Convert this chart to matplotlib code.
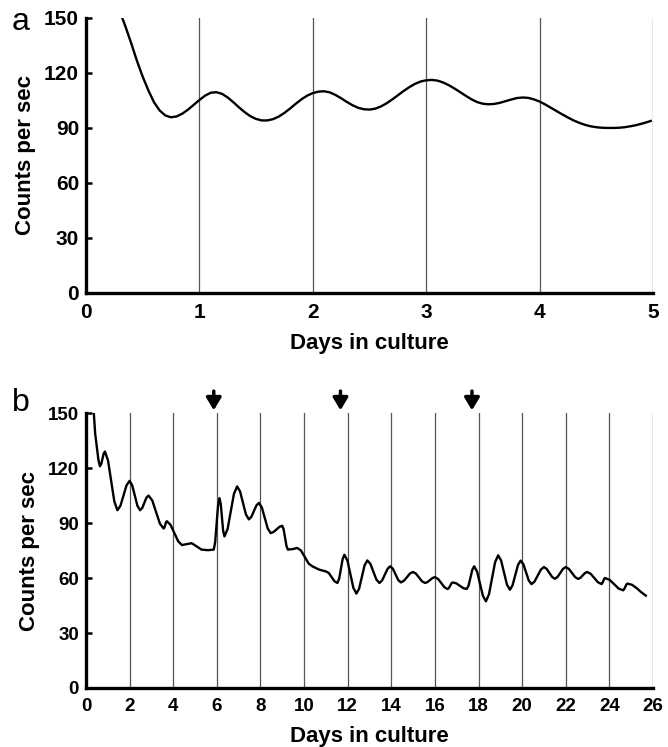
import matplotlib
matplotlib.use("Agg")
import matplotlib.pyplot as plt

plt.rcParams['font.family'] = ['Liberation Sans', 'DejaVu Sans']

# panel a: first 5 days
days_a = [0.32, 0.35, 0.4, 0.45, 0.5, 0.55, 0.6, 0.65, 0.7, 0.75, 0.8, 0.85, 0.9, 0.95,
          1.0, 1.05, 1.1, 1.15, 1.2, 1.25, 1.3, 1.35, 1.4, 1.45, 1.5, 1.55, 1.6, 1.65,
          1.7, 1.75, 1.8, 1.85, 1.9, 1.95, 2.0, 2.05, 2.1, 2.15, 2.2, 2.25, 2.3, 2.35,
          2.4, 2.45, 2.5, 2.55, 2.6, 2.65, 2.7, 2.75, 2.8, 2.85, 2.9, 2.95, 3.0, 3.05,
          3.1, 3.15, 3.2, 3.25, 3.3, 3.35, 3.4, 3.45, 3.5, 3.55, 3.6, 3.65, 3.7, 3.75,
          3.8, 3.85, 3.9, 3.95, 4.0, 4.05, 4.1, 4.15, 4.2, 4.25, 4.3, 4.35, 4.4, 4.45,
          4.5, 4.55, 4.6, 4.65, 4.7, 4.75, 4.8, 4.85, 4.9, 4.95, 4.98]
cps_a = [150, 145, 136, 126.5, 118, 110.5, 104, 99.5, 96.8, 95.8, 96.3, 97.8, 100, 102.6,
         105.2, 107.6, 109.2, 109.5, 108.6, 106.6, 104, 101.2, 98.6, 96.4, 94.9, 94.1, 94.1, 94.8,
         96.2, 98.2, 100.6, 103.2, 105.6, 107.6, 109, 109.8, 110, 109.4, 108, 106.2, 104.2, 102.4,
         101, 100.2, 100, 100.5, 101.7, 103.4, 105.5, 107.8, 110.1, 112.2, 114, 115.3, 116, 116.2,
         115.8, 114.8, 113.3, 111.5, 109.5, 107.5, 105.6, 104.1, 103.2, 102.9, 103.1, 103.7, 104.6, 105.5,
         106.3, 106.6, 106.4, 105.6, 104.4, 102.8, 101, 99.2, 97.4, 95.7, 94.1, 92.8, 91.7, 90.9,
         90.4, 90.1, 90, 90, 90.1, 90.4, 90.9, 91.5, 92.3, 93.2, 93.8]

# panel b: 26 days
days_b = [0.36, 0.42, 0.5, 0.57, 0.64, 0.7, 0.755, 0.81, 0.87, 1.01, 1.155, 1.3, 1.44,
          1.58, 1.72, 1.86, 2.0, 2.12, 2.24, 2.36, 2.48, 2.58, 2.675, 2.77, 2.87,
          3.04, 3.215, 3.39, 3.56, 3.6, 3.635, 3.67, 3.71, 3.88, 4.055, 4.23, 4.4,
          4.62, 4.85, 5.07, 5.3, 5.6, 5.86, 5.925, 5.99, 6.055, 6.12, 6.18, 6.235, 6.29, 6.35,
          6.495, 6.64, 6.785, 6.93, 7.065, 7.2, 7.335, 7.47, 7.585, 7.7, 7.815, 7.93,
          8.065, 8.2, 8.335, 8.47, 8.6, 8.735, 8.87, 9.0, 9.065, 9.13, 9.195, 9.26,
          9.48, 9.69, 9.86, 10.035, 10.21, 10.38, 10.69, 11.0, 11.13, 11.265, 11.4, 11.53,
          11.61, 11.69, 11.77, 11.85, 11.99, 12.125, 12.26, 12.4, 12.525, 12.65, 12.775, 12.9,
          13.04, 13.18, 13.32, 13.46, 13.58, 13.705, 13.83, 13.95, 14.07, 14.195, 14.32, 14.44,
          14.58, 14.715, 14.85, 14.99, 15.13, 15.27, 15.41, 15.55, 15.66, 15.775, 15.89, 16.0,
          16.145, 16.29, 16.435, 16.58, 16.64, 16.7, 16.76, 16.82, 16.98, 17.14, 17.3, 17.46,
          17.545, 17.63, 17.715, 17.8, 17.935, 18.07, 18.205, 18.34, 18.48, 18.62, 18.76, 18.9,
          19.035, 19.17, 19.305, 19.44, 19.56, 19.685, 19.81, 19.93, 20.055, 20.18, 20.305, 20.43,
          20.57, 20.715, 20.86, 21.0, 21.125, 21.25, 21.375, 21.5, 21.625, 21.75, 21.875, 22.0,
          22.14, 22.285, 22.43, 22.57, 22.67, 22.775, 22.88, 22.98, 23.145, 23.31, 23.475, 23.64,
          23.68, 23.72, 23.76, 23.8, 24.01, 24.215, 24.42, 24.63, 24.68, 24.73, 24.78, 24.83,
          25.04, 25.25, 25.46, 25.67]
cps_b = [150, 139, 131, 124.5, 121, 122.2, 125, 127.8, 129, 124.2, 113, 101.8, 97,
         99.4, 105, 110.6, 113, 110.6, 105, 99.4, 97, 98.2, 101, 103.8, 105,
         102.3, 96, 89.7, 87, 87.6, 89, 90.4, 91, 89, 84.5, 80, 78,
         78.5, 79, 77.3, 75.5, 75.2, 75.5, 79.7, 89.5, 99.4, 103.6, 100.5, 93, 85.8, 82.7,
         86.8, 96.4, 105.9, 110, 107.3, 101, 94.7, 92, 93.4, 96.5, 99.6, 101,
         98.5, 92.8, 87, 84.5, 85.1, 86.5, 87.9, 88.5, 86.5, 82, 77.5, 75.5,
         75.8, 76.4, 75, 71.4, 67.9, 66.4, 64.6, 63.6, 62.8, 60.5, 58.2, 57.3,
         59.6, 65, 70.4, 72.7, 69.5, 62.1, 54.7, 51.5, 54.2, 60.5, 66.9, 69.6,
         67.8, 63.4, 59.1, 57.3, 58.7, 61.8, 65, 66.4, 65.1, 62, 58.9, 57.6,
         58.5, 60.4, 62.4, 63.3, 62.4, 60.3, 58.2, 57.3, 57.8, 58.9, 60, 60.5,
         59.5, 57.3, 55, 54, 54.5, 55.8, 57.1, 57.6, 57.1, 55.8, 54.5, 54,
         55.9, 60.2, 64.5, 66.4, 63.5, 56.9, 50.2, 47.3, 51.1, 59.9, 68.6, 72.4,
         69.6, 63, 56.4, 53.6, 56, 61.6, 67.1, 69.5, 67.6, 63.1, 58.6, 56.7,
         58.1, 61.4, 64.6, 66, 65, 62.8, 60.6, 59.6, 60.6, 62.8, 65, 66,
         65, 62.8, 60.5, 59.5, 60.1, 61.4, 62.7, 63.3, 62.3, 60, 57.7, 56.7,
         57.2, 58.4, 59.5, 60, 59, 56.7, 54.3, 53.3, 53.9, 55.2, 56.4, 57,
         56.3, 54.5, 52.3, 50.4]
arrow_days = [5.86, 11.67, 17.7]

fig = plt.figure(figsize=(6.68, 7.47), dpi=100)
ax_a = fig.add_axes([0.1287, 0.6078, 0.8488, 0.3682])
ax_b = fig.add_axes([0.1287, 0.079, 0.8488, 0.368])


def style(ax, xmax, xstep, tick_size):
    ax.set_xlim(0, xmax)
    ax.set_ylim(0, 150)
    ax.set_xticks(range(0, xmax + 1, xstep))
    ax.set_yticks(range(0, 151, 30))
    for x in range(xstep, xmax + 1, xstep):
        ax.axvline(x, color='#555555', lw=0.9, zorder=1)
    ax.spines['top'].set_visible(False)
    ax.spines['right'].set_visible(False)
    ax.spines['left'].set_linewidth(2.4)
    ax.spines['bottom'].set_linewidth(2.4)
    ax.tick_params(axis='x', length=0, pad=7)
    ax.tick_params(axis='y', direction='in', length=4, width=1.8, pad=5)
    for lab in ax.get_xticklabels() + ax.get_yticklabels():
        lab.set_fontsize(tick_size)
        lab.set_fontweight('bold')
    ax.set_xlabel('Days in culture', fontsize=16, fontweight='bold', labelpad=8)
    ax.set_ylabel('Counts per sec', fontsize=16, fontweight='bold', labelpad=6)


style(ax_a, 5, 1, 15)
ax_a.plot(days_a, cps_a, color='black', lw=1.7, zorder=3, solid_joinstyle='round')
ax_a.text(-0.115, 0.985, 'a', transform=ax_a.transAxes, fontsize=23,
          ha='center', va='center')

style(ax_b, 26, 2, 13.5)
ax_b.plot(days_b, cps_b, color='black', lw=1.7, zorder=3, solid_joinstyle='round')
ax_b.text(-0.115, 1.036, 'b', transform=ax_b.transAxes, fontsize=23,
          ha='center', va='center')
for d in arrow_days:
    ax_b.annotate('', xy=(d, 151.5), xytext=(d, 162), annotation_clip=False,
                  arrowprops=dict(arrowstyle='-|>,head_width=0.45,head_length=0.75',
                                  color='black', lw=2.5, shrinkA=0, shrinkB=0))

fig.savefig('out.png', dpi=100)
